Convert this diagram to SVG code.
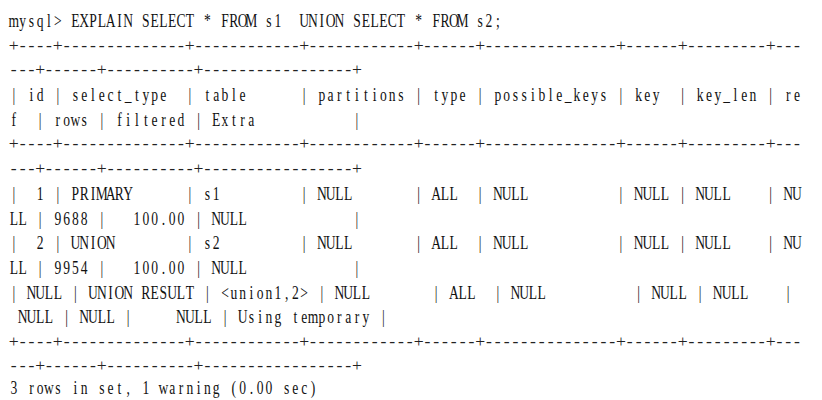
<svg xmlns="http://www.w3.org/2000/svg" width="822" height="400" viewBox="0 0 822 400">
<style>
.t{font-family:"Liberation Serif","Times New Roman",serif;font-size:18.5px;fill:#111;text-anchor:middle;white-space:pre}
.s{font-family:"Liberation Serif","Times New Roman",serif;font-size:16px;fill:#222;text-anchor:middle;white-space:pre}
</style>
<rect width="822" height="400" fill="#ffffff"/>
<g id="rows" transform="translate(13.8 0) scale(0.7333 1)">
<text class="t" xml:space="preserve" y="27" x="0 12 24 36 48 60 72 84 96 108 120 132 144 156 168 180 192 204 216 228 240 252 264 276 288 300 312 324 336 348 360 372 384 396 408 420 432 444 456 468 480 492 504 516 528 540 552 564 576 588 600 612 624 636 648 660 672 684 696 708 720 732 744 756 768 780 792 804 816 828 840 852 864 876 888 900 912 924 936 948 960 972 984 996 1008 1020 1032 1044 1056 1068">mysql&gt; EXPLAIN SELECT * FROM s1  UNION SELECT * FROM s2;</text>
<text class="t" xml:space="preserve" y="101.1" x="0 12 24 36 48 60 72 84 96 108 120 132 144 156 168 180 192 204 216 228 240 252 264 276 288 300 312 324 336 348 360 372 384 396 408 420 432 444 456 468 480 492 504 516 528 540 552 564 576 588 600 612 624 636 648 660 672 684 696 708 720 732 744 756 768 780 792 804 816 828 840 852 864 876 888 900 912 924 936 948 960 972 984 996 1008 1020 1032 1044 1056 1068">| id | select_type  | table      | partitions | type | possible_keys | key  | key_len | re</text>
<text class="t" xml:space="preserve" y="125.8" x="0 12 24 36 48 60 72 84 96 108 120 132 144 156 168 180 192 204 216 228 240 252 264 276 288 300 312 324 336 348 360 372 384 396 408 420 432 444 456 468 480 492 504 516 528 540 552 564 576 588 600 612 624 636 648 660 672 684 696 708 720 732 744 756 768 780 792 804 816 828 840 852 864 876 888 900 912 924 936 948 960 972 984 996 1008 1020 1032 1044 1056 1068">f  | rows | filtered | Extra           |</text>
<text class="t" xml:space="preserve" y="199.9" x="0 12 24 36 48 60 72 84 96 108 120 132 144 156 168 180 192 204 216 228 240 252 264 276 288 300 312 324 336 348 360 372 384 396 408 420 432 444 456 468 480 492 504 516 528 540 552 564 576 588 600 612 624 636 648 660 672 684 696 708 720 732 744 756 768 780 792 804 816 828 840 852 864 876 888 900 912 924 936 948 960 972 984 996 1008 1020 1032 1044 1056 1068">|  1 | PRIMARY      | s1         | NULL       | ALL  | NULL          | NULL | NULL    | NU</text>
<text class="t" xml:space="preserve" y="224.6" x="0 12 24 36 48 60 72 84 96 108 120 132 144 156 168 180 192 204 216 228 240 252 264 276 288 300 312 324 336 348 360 372 384 396 408 420 432 444 456 468 480 492 504 516 528 540 552 564 576 588 600 612 624 636 648 660 672 684 696 708 720 732 744 756 768 780 792 804 816 828 840 852 864 876 888 900 912 924 936 948 960 972 984 996 1008 1020 1032 1044 1056 1068">LL | 9688 |   100.00 | NULL            |</text>
<text class="t" xml:space="preserve" y="249.3" x="0 12 24 36 48 60 72 84 96 108 120 132 144 156 168 180 192 204 216 228 240 252 264 276 288 300 312 324 336 348 360 372 384 396 408 420 432 444 456 468 480 492 504 516 528 540 552 564 576 588 600 612 624 636 648 660 672 684 696 708 720 732 744 756 768 780 792 804 816 828 840 852 864 876 888 900 912 924 936 948 960 972 984 996 1008 1020 1032 1044 1056 1068">|  2 | UNION        | s2         | NULL       | ALL  | NULL          | NULL | NULL    | NU</text>
<text class="t" xml:space="preserve" y="274" x="0 12 24 36 48 60 72 84 96 108 120 132 144 156 168 180 192 204 216 228 240 252 264 276 288 300 312 324 336 348 360 372 384 396 408 420 432 444 456 468 480 492 504 516 528 540 552 564 576 588 600 612 624 636 648 660 672 684 696 708 720 732 744 756 768 780 792 804 816 828 840 852 864 876 888 900 912 924 936 948 960 972 984 996 1008 1020 1032 1044 1056 1068">LL | 9954 |   100.00 | NULL            |</text>
<text class="t" xml:space="preserve" y="298.7" x="0 12 24 36 48 60 72 84 96 108 120 132 144 156 168 180 192 204 216 228 240 252 264 276 288 300 312 324 336 348 360 372 384 396 408 420 432 444 456 468 480 492 504 516 528 540 552 564 576 588 600 612 624 636 648 660 672 684 696 708 720 732 744 756 768 780 792 804 816 828 840 852 864 876 888 900 912 924 936 948 960 972 984 996 1008 1020 1032 1044 1056 1068">| NULL | UNION RESULT | &lt;union1,2&gt; | NULL       | ALL  | NULL          | NULL | NULL    |</text>
<text class="t" xml:space="preserve" y="323.4" x="0 12 24 36 48 60 72 84 96 108 120 132 144 156 168 180 192 204 216 228 240 252 264 276 288 300 312 324 336 348 360 372 384 396 408 420 432 444 456 468 480 492 504 516 528 540 552 564 576 588 600 612 624 636 648 660 672 684 696 708 720 732 744 756 768 780 792 804 816 828 840 852 864 876 888 900 912 924 936 948 960 972 984 996 1008 1020 1032 1044 1056 1068"> NULL | NULL |     NULL | Using temporary |</text>
<text class="t" xml:space="preserve" y="394.5" x="0 12 24 36 48 60 72 84 96 108 120 132 144 156 168 180 192 204 216 228 240 252 264 276 288 300 312 324 336 348 360 372 384 396 408 420 432 444 456 468 480 492 504 516 528 540 552 564 576 588 600 612 624 636 648 660 672 684 696 708 720 732 744 756 768 780 792 804 816 828 840 852 864 876 888 900 912 924 936 948 960 972 984 996 1008 1020 1032 1044 1056 1068">3 rows in set, 1 warning (0.00 sec)</text>
</g>
<g id="separators" transform="translate(13.8 0) scale(1.1 1)">
<text class="s" xml:space="preserve" y="50.7" x="0 8 16 24 32 40 48 56 64 72 80 88 96 104 112 120 128 136 144 152 160 168 176 184 192 200 208 216 224 232 240 248 256 264 272 280 288 296 304 312 320 328 336 344 352 360 368 376 384 392 400 408 416 424 432 440 448 456 464 472 480 488 496 504 512 520 528 536 544 552 560 568 576 584 592 600 608 616 624 632 640 648 656 664 672 680 688 696 704 712">+----+--------------+------------+------------+------+---------------+------+---------+---</text>
<text class="s" xml:space="preserve" y="75.4" x="0 8 16 24 32 40 48 56 64 72 80 88 96 104 112 120 128 136 144 152 160 168 176 184 192 200 208 216 224 232 240 248 256 264 272 280 288 296 304 312 320 328 336 344 352 360 368 376 384 392 400 408 416 424 432 440 448 456 464 472 480 488 496 504 512 520 528 536 544 552 560 568 576 584 592 600 608 616 624 632 640 648 656 664 672 680 688 696 704 712">---+------+----------+-----------------+</text>
<text class="s" xml:space="preserve" y="149.5" x="0 8 16 24 32 40 48 56 64 72 80 88 96 104 112 120 128 136 144 152 160 168 176 184 192 200 208 216 224 232 240 248 256 264 272 280 288 296 304 312 320 328 336 344 352 360 368 376 384 392 400 408 416 424 432 440 448 456 464 472 480 488 496 504 512 520 528 536 544 552 560 568 576 584 592 600 608 616 624 632 640 648 656 664 672 680 688 696 704 712">+----+--------------+------------+------------+------+---------------+------+---------+---</text>
<text class="s" xml:space="preserve" y="174.2" x="0 8 16 24 32 40 48 56 64 72 80 88 96 104 112 120 128 136 144 152 160 168 176 184 192 200 208 216 224 232 240 248 256 264 272 280 288 296 304 312 320 328 336 344 352 360 368 376 384 392 400 408 416 424 432 440 448 456 464 472 480 488 496 504 512 520 528 536 544 552 560 568 576 584 592 600 608 616 624 632 640 648 656 664 672 680 688 696 704 712">---+------+----------+-----------------+</text>
<text class="s" xml:space="preserve" y="346.6" x="0 8 16 24 32 40 48 56 64 72 80 88 96 104 112 120 128 136 144 152 160 168 176 184 192 200 208 216 224 232 240 248 256 264 272 280 288 296 304 312 320 328 336 344 352 360 368 376 384 392 400 408 416 424 432 440 448 456 464 472 480 488 496 504 512 520 528 536 544 552 560 568 576 584 592 600 608 616 624 632 640 648 656 664 672 680 688 696 704 712">+----+--------------+------------+------------+------+---------------+------+---------+---</text>
<text class="s" xml:space="preserve" y="370.8" x="0 8 16 24 32 40 48 56 64 72 80 88 96 104 112 120 128 136 144 152 160 168 176 184 192 200 208 216 224 232 240 248 256 264 272 280 288 296 304 312 320 328 336 344 352 360 368 376 384 392 400 408 416 424 432 440 448 456 464 472 480 488 496 504 512 520 528 536 544 552 560 568 576 584 592 600 608 616 624 632 640 648 656 664 672 680 688 696 704 712">---+------+----------+-----------------+</text>
</g>
</svg>
